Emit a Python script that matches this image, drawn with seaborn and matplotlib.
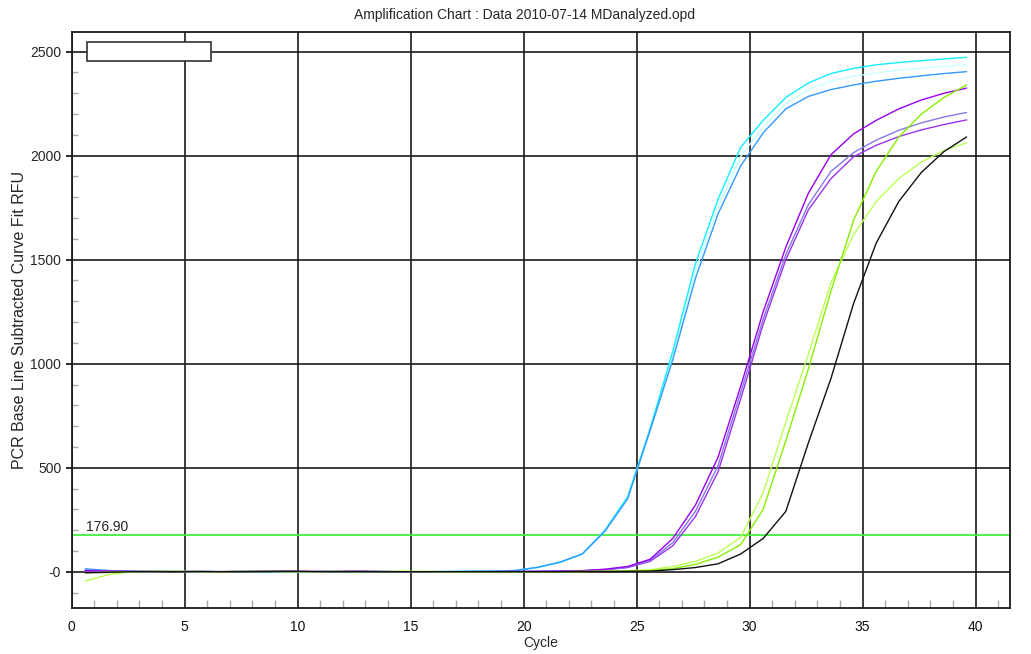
import numpy as np
import pandas as pd
import matplotlib
matplotlib.use("Agg")
import matplotlib.pyplot as plt
from matplotlib.patches import Rectangle
from matplotlib.ticker import MultipleLocator
import seaborn as sns

# cycle numbers and the plot offset the instrument software uses
cycles = np.arange(1, 41)
x_offset = -0.4

# curve-fit RFU per well
cyan = [6, 2, 1, 0, 1, 0, 0, 1, 0, 0, 0, 1, 0, 0, 0, 0, 1, 2, 3,
        5, 20, 45, 85, 200, 360, 690, 1060, 1480, 1790, 2040, 2170, 2280,
        2350, 2395, 2420, 2437, 2448, 2457, 2465, 2473]
pale_cyan = [4, 1, 0, 0, 1, 0, 0, 0, 1, 0, 0, 0, 0, 1, 0, 0, 0, 1, 2,
             5, 20, 44, 85, 197, 355, 685, 1040, 1445, 1755, 1995, 2140, 2250,
             2318, 2358, 2382, 2398, 2411, 2421, 2430, 2437]
blue = [14, 6, 2, 1, 0, 1, 0, 0, 0, 1, 0, 0, 0, 1, 0, 0, 1, 2, 3,
        6, 21, 46, 86, 195, 350, 680, 1020, 1410, 1720, 1950, 2110, 2225,
        2285, 2318, 2340, 2358, 2372, 2384, 2395, 2404]
purple = [5, 3, 1, 0, 1, 0, 0, 2, 3, 2, 1, 2, 3, 1, 0, 0, 0, 0, 0, 1, 2, 3,
          5, 12, 25, 60, 160, 320, 550, 890, 1250, 1560, 1820, 2005, 2105,
          2170, 2225, 2268, 2300, 2325]
lavender = [8, 4, 2, 1, 0, 1, 1, 0, 1, 2, 1, 0, 1, 2, 0, 0, 0, 0, 1, 1, 2, 3,
            5, 10, 22, 55, 140, 290, 510, 860, 1215, 1525, 1765, 1925, 2015,
            2075, 2122, 2158, 2186, 2208]
violet = [3, 2, 1, 0, 0, 1, 0, 1, 2, 1, 0, 1, 2, 0, 0, 0, 0, 0, 0, 1, 1, 2,
          4, 9, 20, 50, 125, 265, 480, 830, 1190, 1500, 1740, 1890, 1995,
          2050, 2092, 2124, 2150, 2172]
light_green = [-45, -15, 0, 1, 2, 1, 0, 1, 2, 1, 0, 1, 0, 1, 2, 1, 0, 0, 0, 0,
               0, 0, 1, 2, 4, 10, 25, 50, 90, 165, 380, 720, 1045, 1390, 1620,
               1780, 1890, 1970, 2025, 2062]
green = [-5, -2, 0, 1, 1, 0, 0, 1, 1, 0, 0, 1, 1, 0, 1, 1, 0, 0, 0, 0,
         0, 0, 1, 2, 3, 5, 15, 35, 70, 130, 300, 630, 975, 1350, 1690,
         1925, 2090, 2200, 2280, 2340]
black = [-5, -3, 0, 1, 0, 1, 0, 0, 1, 2, 1, 0, 0, 0, 0, 0, 0, 0, 0, 0,
         0, 0, 1, 1, 2, 3, 10, 20, 38, 85, 160, 290, 620, 930, 1290,
         1580, 1780, 1920, 2020, 2090]

threshold = 176.90

wells = {
    "pale_cyan": pale_cyan, "cyan": cyan, "blue": blue,
    "violet": violet, "lavender": lavender, "purple": purple,
    "light_green": light_green, "green": green, "black": black,
}
palette = {
    "pale_cyan": "#ccffff", "cyan": "#11eeff", "blue": "#3399ff",
    "violet": "#9933ee", "lavender": "#8877e8", "purple": "#9900ee",
    "light_green": "#bbff55", "green": "#88ee00", "black": "#111111",
}

rows = []
for name, vals in wells.items():
    for c, v in zip(cycles, vals):
        rows.append({"well": name, "cycle": c + x_offset, "rfu": v})
df = pd.DataFrame(rows)

sns.set_theme(style="white")
plt.rcParams["font.family"] = ["Liberation Sans", "DejaVu Sans"]

fig = plt.figure(figsize=(10.31, 6.54), dpi=100)
ax = fig.add_axes([0.0695, 0.0708, 0.9097, 0.8807])

ax.axhline(threshold, color="#44ee44", lw=1.3, zorder=1)
ax.text(0.62, 216, f"{threshold:.2f}", fontsize=10, va="center", ha="left")

sns.lineplot(data=df, x="cycle", y="rfu", hue="well", palette=palette,
             hue_order=list(wells.keys()), estimator=None, sort=False,
             legend=False, lw=1.0, ax=ax, zorder=3)

ax.set_xlim(0, 41.5)
ax.set_ylim(-173, 2596)

ax.xaxis.set_major_locator(MultipleLocator(5))
ax.xaxis.set_minor_locator(MultipleLocator(1))
ax.set_yticks([0, 500, 1000, 1500, 2000, 2500])
ax.set_yticklabels(["-0", "500", "1000", "1500", "2000", "2500"])
ax.yaxis.set_minor_locator(MultipleLocator(100))

ax.grid(True, which="major", color="#1a1a1a", lw=1.2, zorder=0)
ax.set_axisbelow(True)
for s in ax.spines.values():
    s.set_color("#1a1a1a")
    s.set_linewidth(1.3)

ax.tick_params(axis="x", which="major", length=0, pad=9, labelsize=10,
               colors="#111111")
ax.tick_params(axis="x", which="minor", direction="in", length=6,
               color="#aaaaaa", width=1, bottom=True)
ax.tick_params(axis="y", which="major", direction="out", length=4.5, pad=3,
               labelsize=10, color="#111111", left=True)
ax.tick_params(axis="y", which="minor", direction="in", length=4.5,
               color="#aaaaaa", width=1, left=True)

ax.set_xlabel("Cycle", fontsize=10, labelpad=1)
ax.set_ylabel("PCR Base Line Subtracted Curve Fit RFU", fontsize=11.5, labelpad=2)

# empty legend box in the upper-left corner
ax.add_patch(Rectangle((0.0165, 0.9493), 0.1317, 0.0324, transform=ax.transAxes,
                       facecolor="white", edgecolor="#333333", lw=1.2, zorder=5))

fig.text(525 / 1031, 1 - 15 / 654, "Amplification Chart : Data 2010-07-14 MDanalyzed.opd",
         ha="center", va="center", fontsize=10)

fig.savefig("out.png", dpi=100)
